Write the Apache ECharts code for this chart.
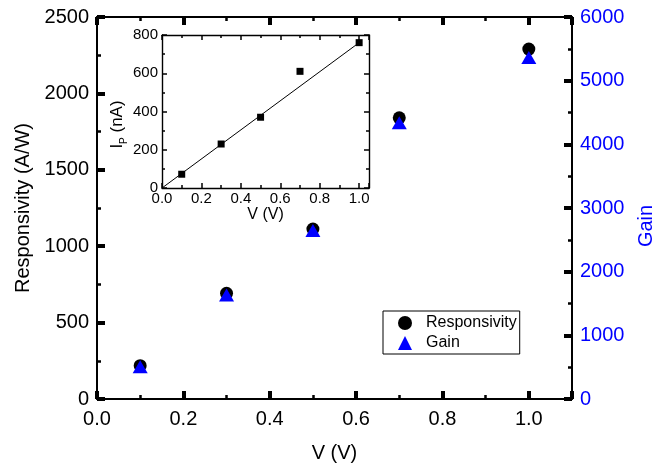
<!DOCTYPE html>
<html><head><meta charset="utf-8">
<script src="https://cdn.jsdelivr.net/npm/echarts@6/dist/echarts.min.js"></script>
<style>html,body{margin:0;padding:0;background:#fff}#c{width:655px;height:466px}</style>
</head><body><div id="c"></div>
<script>
const voltage = [0.1, 0.3, 0.5, 0.7, 1.0];
const responsivity = [218, 692, 1112, 1840, 2290];
const gain = [505, 1635, 2645, 4340, 5365];
const photocurrent = [72, 230, 370, 610, 760];
const fitVoltage = [0, 1.0];
const fitCurrent = [0, 760];
const seriesNames = ['Responsivity', 'Gain'];

const FONT = 'Liberation Sans, Arial, sans-serif';
const BLUE = '#0000ff';
const AX = '#000';

function axisBase(extra, small) {
  return Object.assign({
    axisLine: { show: true, onZero: false, lineStyle: { color: AX, width: small ? 1.4 : 2 } },
    axisTick: { show: true, inside: true, length: small ? 5 : 8, lineStyle: { color: AX, width: small ? 1.5 : 4 } },
    minorTick: { show: true, splitNumber: 2, length: small ? 3 : 4, lineStyle: { color: AX, width: small ? 1.5 : 2.5 } },
    splitLine: { show: false },
    minorSplitLine: { show: false }
  }, extra);
}

const chart = echarts.init(document.getElementById('c'), null, { renderer: 'canvas' });
chart.setOption({
  animation: false,
  backgroundColor: '#fff',
  textStyle: { fontFamily: FONT },
  grid: [
    { left: 97, top: 17, right: 83, bottom: 67, containLabel: false, outerBoundsMode: 'none' },
    { left: 162, top: 35, width: 207, height: 153, show: true, backgroundColor: '#fff', borderWidth: 0, z: 5, containLabel: false, outerBoundsMode: 'none' }
  ],
  legend: {
    orient: 'vertical', left: 383, top: 311,
    borderColor: '#000', borderWidth: 1, padding: [4, 3, 3, 15],
    itemWidth: 14, itemHeight: 14, itemGap: 4,
    textStyle: { fontSize: 16, color: '#000', fontFamily: FONT, padding: [0, 0, 0, 9] },
    data: [
      { name: seriesNames[0], icon: 'circle' },
      { name: seriesNames[1], icon: 'triangle' }
    ]
  },
  xAxis: [
    axisBase({
      gridIndex: 0, type: 'value', position: 'bottom', min: 0, max: 1.1, interval: 0.2,
      axisLabel: { fontSize: 20, color: '#000', margin: 10, showMaxLabel: false,
        formatter: v => v > 1.05 ? '' : v.toFixed(1) },
      name: 'V (V)', nameLocation: 'middle', nameGap: 44,
      nameTextStyle: { fontSize: 20, color: '#000' }
    }),
    axisBase({
      gridIndex: 0, type: 'value', position: 'top', min: 0, max: 1.1, interval: 0.2,
      axisLabel: { show: false }
    }),
    axisBase({
      gridIndex: 1, type: 'value', position: 'bottom', min: 0, max: 1.05, interval: 0.2,
      axisLabel: { fontSize: 15, color: '#000', margin: 3, showMaxLabel: false,
        formatter: v => v > 1.01 ? '' : v.toFixed(1) },
      name: 'V (V)', nameLocation: 'middle', nameGap: 17,
      nameTextStyle: { fontSize: 16, color: '#000' }, z: 6
    }, true),
    axisBase({
      gridIndex: 1, type: 'value', position: 'top', min: 0, max: 1.05, interval: 0.2,
      axisLabel: { show: false }, z: 6
    }, true)
  ],
  yAxis: [
    axisBase({
      gridIndex: 0, type: 'value', position: 'left', min: 0, max: 2500, interval: 500,
      axisLabel: { fontSize: 20, color: '#000', margin: 8, formatter: v => String(v) },
      name: 'Responsivity (A/W)', nameLocation: 'middle', nameGap: 62,
      nameTextStyle: { fontSize: 20, color: '#000' }
    }),
    axisBase({
      gridIndex: 0, type: 'value', position: 'right', min: 0, max: 6000, interval: 1000,
      axisLabel: { fontSize: 20, color: BLUE, margin: 8, formatter: v => String(v) },
      name: 'Gain', nameLocation: 'middle', nameGap: 64,
      nameTextStyle: { fontSize: 20, color: BLUE, padding: [0, 0, 0, -36] }
    }),
    axisBase({
      gridIndex: 1, type: 'value', position: 'left', min: 0, max: 800, interval: 200,
      axisLabel: { fontSize: 15, color: '#000', margin: 4, formatter: v => String(v) },
      name: '{a|I}{s|P}{a| (nA)}', nameLocation: 'middle', nameGap: 30,
      nameTextStyle: {
        color: '#000', padding: [0, 0, 0, -26],
        rich: {
          a: { fontSize: 17, color: '#000', fontFamily: FONT, lineHeight: 24, verticalAlign: 'middle' },
          s: { fontSize: 10, color: '#000', fontFamily: FONT, lineHeight: 24, verticalAlign: 'bottom' }
        }
      }, z: 6
    }, true),
    axisBase({
      gridIndex: 1, type: 'value', position: 'right', min: 0, max: 800, interval: 200,
      axisLabel: { show: false }, z: 6
    }, true)
  ],
  series: [
    {
      name: seriesNames[0], type: 'scatter', xAxisIndex: 0, yAxisIndex: 0,
      symbol: 'circle', symbolSize: 13, itemStyle: { color: '#000', opacity: 1 }, z: 3,
      data: voltage.map((v, i) => [v, responsivity[i]])
    },
    {
      name: seriesNames[1], type: 'scatter', xAxisIndex: 0, yAxisIndex: 1,
      symbol: 'triangle', symbolSize: [15, 13], itemStyle: { color: BLUE, opacity: 1 }, z: 4,
      data: voltage.map((v, i) => [v, gain[i]])
    },
    {
      name: 'fit', type: 'line', xAxisIndex: 2, yAxisIndex: 2, symbol: 'none',
      lineStyle: { color: '#000', width: 1 }, z: 7,
      data: fitVoltage.map((v, i) => [v, fitCurrent[i]])
    },
    {
      name: 'Ip', type: 'scatter', xAxisIndex: 2, yAxisIndex: 2,
      symbol: 'rect', symbolSize: 7, itemStyle: { color: '#000', opacity: 1 }, z: 8,
      data: voltage.map((v, i) => [v, photocurrent[i]])
    }
  ]
});
</script></body></html>
